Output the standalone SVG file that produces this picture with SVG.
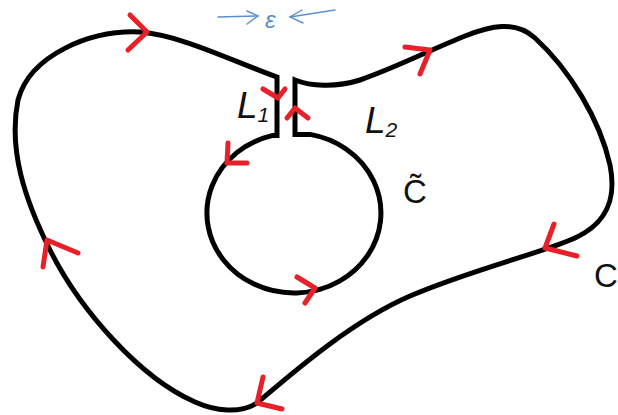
<svg xmlns="http://www.w3.org/2000/svg" width="618" height="415" viewBox="0 0 618 415">
<defs>
<style>
.curve{fill:none;stroke:#000;stroke-width:5;stroke-linejoin:miter}
.arr{fill:none;stroke:#e8202a;stroke-width:5;stroke-linecap:round;stroke-linejoin:round}
.eps{fill:none;stroke:#5b8fd0;stroke-width:1.4;stroke-linecap:round}
.lbl{font-family:"Liberation Sans",Arial,sans-serif;fill:#111}
</style>
</defs>
<rect width="618" height="415" fill="#fff"/>
<g id="connectors">
<path id="contour" class="curve" d="M 295,80 C 310,86 335,88 360,80 C 395,68 430,50 465,36 C 490,26 515,20 535,38 C 570,70 600,120 610,165 C 616,195 610,222 575,238 C 545,252 470,270 410,296 C 350,322 290,375 257,403 C 240,414 215,411 195,402 C 140,378 80,310 50,250 C 25,200 8,150 18,100 C 30,55 90,30 140,32 C 180,35 230,60 277,77 L 277,135.6 L 272,135.6 A 87 80 0 1 0 310,134.4 L 295,134.4 Z"/>
</g>
<g id="arrows">
<polyline class="arr" points="130,15 147,32 128,50"/>
<polyline class="arr" points="405,47 430,50 420,74"/>
<polyline class="arr" points="554,224 545,248 577,256"/>
<polyline class="arr" points="263,377 257,403 282,409"/>
<polyline class="arr" points="43,267 47,240 78,253"/>
<polyline class="arr" points="228,143 227,163 247,163"/>
<polyline class="arr" points="297,277 315,288 305,303"/>
<polyline class="arr" points="263,89 278,98 285,89"/>
<polyline class="arr" points="287,118 295,108 308,118"/>
</g>
<g id="epsilon">
<line class="eps" x1="218" y1="17" x2="258" y2="16"/>
<polyline class="eps" points="247,11 258,16 247,24"/>
<line class="eps" x1="335" y1="10" x2="290" y2="17"/>
<polyline class="eps" points="302,10 290,17 303,23"/>
<text x="265" y="28" class="lbl" style="fill:#5b8fd0;font-style:italic;font-size:24px">ε</text>
</g>
<g id="labelL1">
<text x="237" y="118" class="lbl" style="font-style:italic;font-size:37px">L<tspan dy="4" style="font-size:21px">1</tspan></text>
</g>
<g id="labelL2">
<text x="365" y="133" class="lbl" style="font-style:italic;font-size:37px">L<tspan dy="4" style="font-size:21px">2</tspan></text>
</g>
<g id="labelCtilde">
<text x="403" y="203" class="lbl" style="font-size:33px">C̃</text>
</g>
<g id="labelC">
<text x="594" y="287" class="lbl" style="font-size:33px">C</text>
</g>
</svg>
